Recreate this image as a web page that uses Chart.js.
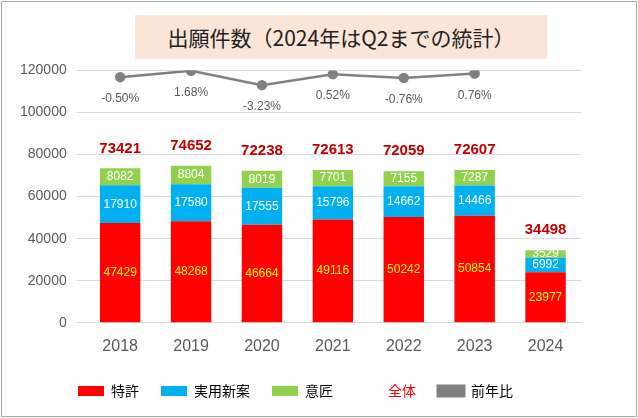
<!DOCTYPE html>
<html><head><meta charset="utf-8">
<script src="https://cdn.jsdelivr.net/npm/chart.js@4"></script>
<style>
html,body{margin:0;padding:0;background:#fff;}
#wrap{position:absolute;left:1px;top:1px;width:634px;height:414px;border:1px solid #a6a6a6;font-family:"Noto Sans CJK JP","Noto Sans",sans-serif;}
#title{position:absolute;left:133px;top:13px;width:412px;height:44px;background:#fbe5d6;font-size:21px;line-height:44px;text-align:center;color:#222;}
#cv{position:absolute;left:0;top:50px;}
</style></head><body>
<div id="wrap"><div id="title">出願件数（2024年はQ2までの統計）</div>
<canvas id="cv" width="634" height="362"></canvas></div>
<script>
const years = ['2018','2019','2020','2021','2022','2023','2024'];
const tokkyo = [47429,48268,46664,49116,50242,50854,23977];
const jitsuyo = [17910,17580,17555,15796,14662,14466,6992];
const isho = [8082,8804,8019,7701,7155,7287,3529];
const zentai = [73421,74652,72238,72613,72059,72607,34498];
const zennenhi = [-0.50,1.68,-3.23,0.52,-0.76,0.76,null];

const FONT = "'Liberation Sans','Noto Sans CJK JP',sans-serif";
const JFONT = "'Noto Sans CJK JP','Noto Sans',sans-serif";

const labelPlugin = {
  id: 'labels',
  afterDatasetsDraw(chart) {
    const ctx = chart.ctx;
    ctx.save();
    ctx.textAlign = 'center';
    ctx.textBaseline = 'middle';
    const colors = ['#ffff00', '#ffffff', '#ffffff'];
    [0,1,2].forEach(di => {
      const meta = chart.getDatasetMeta(di);
      meta.data.forEach((bar, i) => {
        const v = chart.data.datasets[di].data[i];
        ctx.font = '12px ' + FONT;
        ctx.fillStyle = colors[di];
        ctx.fillText(v, bar.x, (bar.y + bar.base) / 2);
      });
    });
    const top = chart.getDatasetMeta(2);
    ctx.font = 'bold 15px ' + FONT;
    ctx.fillStyle = '#c00000';
    top.data.forEach((bar, i) => ctx.fillText(zentai[i], bar.x, bar.y - 20));
    const line = chart.getDatasetMeta(4);
    ctx.font = '12px ' + FONT;
    ctx.fillStyle = '#595959';
    line.data.forEach((pt, i) => {
      if (zennenhi[i] == null) return;
      ctx.fillText(zennenhi[i].toFixed(2) + '%', pt.x, pt.y + 22);
    });
    ctx.restore();
  }
};

new Chart(document.getElementById('cv'), {
  data: {
    labels: years,
    datasets: [
      { type: 'bar', label: '特許', data: tokkyo, backgroundColor: '#ff0000', stack: 's', categoryPercentage: 0.6, barPercentage: 0.95 },
      { type: 'bar', label: '実用新案', data: jitsuyo, backgroundColor: '#00b0f0', stack: 's', categoryPercentage: 0.6, barPercentage: 0.95 },
      { type: 'bar', label: '意匠', data: isho, backgroundColor: '#92d050', stack: 's', categoryPercentage: 0.6, barPercentage: 0.95 },
      { type: 'bar', label: '全体', data: [], backgroundColor: 'transparent', stack: 's', categoryPercentage: 0.6, barPercentage: 0.95 },
      { type: 'line', label: '前年比', data: zennenhi, yAxisID: 'y2', borderColor: '#808080', backgroundColor: '#808080',
        borderWidth: 2.5, pointRadius: 4, pointBackgroundColor: '#808080' }
    ]
  },
  options: {
    responsive: false,
    animation: false,
    layout: { padding: { left: 8, right: 55, top: 8, bottom: 6 } },
    scales: {
      x: { stacked: true, grid: { display: false }, border: { color: '#d9d9d9' },
           ticks: { color: '#595959', font: { size: 16, family: FONT }, padding: 6 } },
      y: { stacked: true, min: 0, max: 120000, border: { display: false },
           ticks: { stepSize: 20000, color: '#595959', font: { size: 14, family: FONT }, padding: 10, callback: v => String(v) },
           grid: { color: '#d9d9d9' } },
      y2: { display: false, min: -84.4, max: 1.8 }
    },
    plugins: {
      tooltip: { enabled: false },
      legend: {
        position: 'bottom',
        labels: {
          font: { size: 14, family: JFONT },
          color: '#000',
          padding: 22,
          boxWidth: 26, boxHeight: 10,
          generateLabels(chart) {
            return chart.data.datasets.map((ds, i) => {
              const item = { text: ds.label, datasetIndex: i, fillStyle: ds.backgroundColor, strokeStyle: ds.backgroundColor, lineWidth: 0, fontColor: '#000' };
              if (i === 3) { item.fontColor = '#ff0000'; item.fillStyle = 'transparent'; item.strokeStyle = 'transparent'; }
              if (i === 4) { item.pointStyle = 'line'; item.strokeStyle = '#808080'; item.lineWidth = 3; }
              return item;
            });
          }
        }
      }
    }
  },
  plugins: [labelPlugin]
});
</script>
</body></html>
